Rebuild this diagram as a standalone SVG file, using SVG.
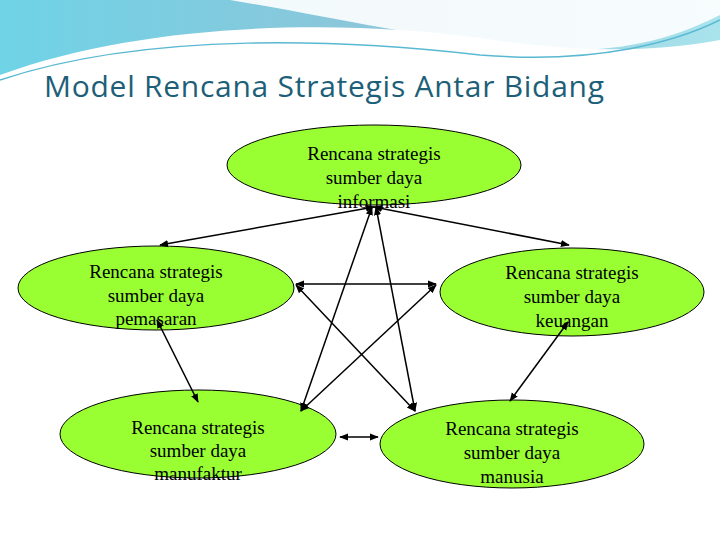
<svg xmlns="http://www.w3.org/2000/svg" width="720" height="540" viewBox="0 0 720 540">
<defs>
<linearGradient id="bg" x1="0" y1="0" x2="1" y2="0">
<stop offset="0" stop-color="#6fd3e6"/><stop offset="0.5" stop-color="#8cc6da"/><stop offset="1" stop-color="#a9e3ec"/>
</linearGradient>
<marker id="ah" viewBox="0 0 10 10" refX="9" refY="5" markerWidth="6" markerHeight="6" orient="auto-start-reverse">
<path d="M0,1 L10,5 L0,9 z" fill="#000"/>
</marker>
<style>
.n{fill:#99ff33;stroke:#000;stroke-width:1}
.t{font-family:"Liberation Serif",serif;font-size:19px;text-anchor:middle;fill:#000}
.c line{stroke:#000;stroke-width:1.5;marker-start:url(#ah);marker-end:url(#ah)}
</style>
</defs>
<rect width="720" height="540" fill="#fff"/>
<path d="M0,0 H720 V40 C640,55 560,50 480,38 C350,20 150,20 0,75 Z" fill="url(#bg)"/>
<path d="M230,0 C350,20 450,45 560,50 C640,52 690,30 720,15 V0 Z" fill="#fff" opacity="0.9"/>
<path d="M0,80 C150,30 350,40 480,55 C600,65 680,40 720,20" fill="none" stroke="#5ab9d2" stroke-width="1.5"/>
<text x="44" y="97" font-family="'Open Sans','Liberation Sans',sans-serif" font-size="30" fill="#1d5f78" textLength="560">Model Rencana Strategis Antar Bidang</text>
<g id="informasi"><ellipse class="n" cx="374" cy="165" rx="147" ry="40"/>
<text class="t" x="374" y="160">Rencana strategis</text><text class="t" x="374" y="184">sumber daya</text><text class="t" x="374" y="208">informasi</text></g>
<g id="pemasaran"><ellipse class="n" cx="156" cy="288" rx="138" ry="42"/>
<text class="t" x="156" y="278">Rencana strategis</text><text class="t" x="156" y="302">sumber daya</text><text class="t" x="156" y="325">pemasaran</text></g>
<g id="keuangan"><ellipse class="n" cx="572" cy="292" rx="132" ry="44"/>
<text class="t" x="572" y="279">Rencana strategis</text><text class="t" x="572" y="303">sumber daya</text><text class="t" x="572" y="327">keuangan</text></g>
<g id="manufaktur"><ellipse class="n" cx="198" cy="434" rx="138" ry="44"/>
<text class="t" x="198" y="434">Rencana strategis</text><text class="t" x="198" y="457">sumber daya</text><text class="t" x="198" y="480">manufaktur</text></g>
<g id="manusia"><ellipse class="n" cx="512" cy="444" rx="132" ry="44"/>
<text class="t" x="512" y="435">Rencana strategis</text><text class="t" x="512" y="459">sumber daya</text><text class="t" x="512" y="483">manusia</text></g>
<g class="c">
<line x1="374" y1="207" x2="160" y2="245"/>
<line x1="374" y1="207" x2="569" y2="245"/>
<line x1="296" y1="284" x2="436" y2="284"/>
<line x1="296" y1="285" x2="415" y2="411"/>
<line x1="436" y1="285" x2="301" y2="411"/>
<line x1="372" y1="207" x2="301" y2="411"/>
<line x1="376" y1="207" x2="415" y2="411"/>
<line x1="157" y1="320" x2="198" y2="402"/>
<line x1="568" y1="322" x2="510" y2="401"/>
<line x1="340" y1="437" x2="378" y2="437"/>
</g>
</svg>
